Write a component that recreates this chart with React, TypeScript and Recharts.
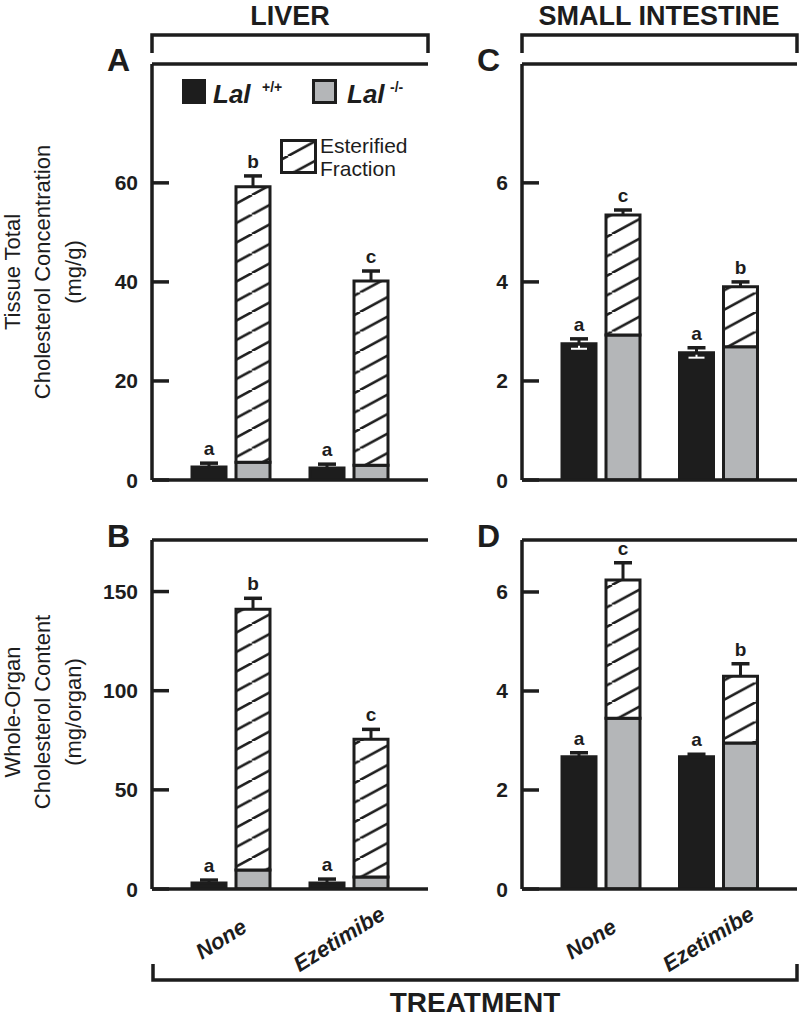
import React from "react";
import { BarChart, Bar, XAxis, YAxis, ReferenceLine, LabelList } from "recharts";

const INK = "#1d1d1d";
const GRAY = "#b4b6b8";
const FONT = "'Liberation Sans', Arial, Helvetica, sans-serif";
const W = 800;
const H = 1017;

const treatments = ["None", "Ezetimibe"];

// A: liver, tissue total cholesterol concentration (mg/g)
const liverConcWt = [2.6, 2.4];
const liverConcWtSe = [0.8, 0.8];
const liverConcKoFree = [3.6, 3.0];
const liverConcKoEster = [55.6, 37.2];
const liverConcKoSe = [2.2, 2.0];
const liverConcLetters = ["a", "a"];
const liverConcKoLetters = ["b", "c"];

// B: liver, whole-organ cholesterol content (mg/organ)
const liverContWt = [3, 3];
const liverContWtSe = [1.5, 2];
const liverContKoFree = [9.6, 6];
const liverContKoEster = [131.5, 69.5];
const liverContKoSe = [5.5, 5];
const liverContLetters = ["a", "a"];
const liverContKoLetters = ["b", "c"];

// C: small intestine, tissue concentration (mg/g)
const siConcWt = [2.75, 2.57];
const siConcWtSe = [0.1, 0.1];
const siConcKoFree = [2.93, 2.69];
const siConcKoEster = [2.42, 1.21];
const siConcKoSe = [0.1, 0.1];
const siConcLetters = ["a", "a"];
const siConcKoLetters = ["c", "b"];

// D: small intestine, whole-organ content (mg/organ)
const siContWt = [2.67, 2.67];
const siContWtSe = [0.08, 0.05];
const siContKoFree = [3.45, 2.95];
const siContKoEster = [2.79, 1.35];
const siContKoSe = [0.35, 0.25];
const siContLetters = ["a", "a"];
const siContKoLetters = ["c", "b"];

function rows(
  wt: number[], wtSe: number[], koFree: number[], koEster: number[], koSe: number[],
  wtLetter: string[], koLetter: string[]
) {
  return treatments.map((name, i) => ({
    name,
    wt: wt[i],
    wtSe: wtSe[i],
    koFree: koFree[i],
    koEster: koEster[i],
    koSe: koSe[i],
    wtLetter: wtLetter[i],
    koLetter: koLetter[i],
  }));
}

const LeftTick = (p: any) => (
  <g>
    <line x1={p.x} x2={p.x + 17} y1={p.y} y2={p.y} stroke={INK} strokeWidth={3.5} />
    <text x={p.x - 14} y={p.y} textAnchor="end" dominantBaseline="central"
      fontSize={21} fontWeight="bold" fill={INK} fontFamily={FONT}>
      {p.payload.value}
    </text>
  </g>
);

const RightTick = (p: any) => (
  <line x1={p.x - 17} x2={p.x} y1={p.y} y2={p.y} stroke={INK} strokeWidth={3.5} />
);

const XTick = (p: any) => {
  const cx = p.x - 10;
  const cy = p.y + 50;
  return (
    <text x={cx} y={cy} transform={`rotate(-32 ${cx} ${cy})`} textAnchor="middle"
      dominantBaseline="central" fontSize={22} fontWeight="bold" fontStyle="italic"
      fill={INK} fontFamily={FONT}>
      {p.payload.value}
    </text>
  );
};

// error bar drawn over the invisible stacked segment (its rect = the error extent)
const ErrShape = (p: any) => {
  const { x, y, width, height, inner } = p;
  if (!height || height <= 0) return null;
  const cx = x + width / 2;
  const base = y + height;
  return (
    <g>
      {inner && height >= 4.5 && (
        <g>
          <line x1={cx} x2={cx} y1={base + 2} y2={base + height} stroke="#fff" strokeWidth={2} />
          <line x1={cx - 8} x2={cx + 8} y1={base + height} y2={base + height} stroke="#fff" strokeWidth={2} />
        </g>
      )}
      <line x1={cx} x2={cx} y1={base} y2={y} stroke={INK} strokeWidth={3} />
      <line x1={cx - 9} x2={cx + 9} y1={y} y2={y} stroke={INK} strokeWidth={3.5} />
    </g>
  );
};

interface PanelProps {
  id: string;
  data: any[];
  plot: { left: number; right: number; top: number; bottom: number };
  domain: [number, number];
  ticks: number[];
  showX: boolean;
}

function Panel({ id, data, plot, domain, ticks, showX }: PanelProps) {
  return (
    <div style={{ position: "absolute", left: 0, top: 0 }}>
      <BarChart
        width={W}
        height={H}
        data={data}
        margin={{ top: plot.top, left: plot.left - 60, right: W - plot.right, bottom: H - plot.bottom - 60 }}
        barGap={10}
        barSize={34}
      >
        <defs>
          <pattern id={id} patternUnits="userSpaceOnUse" width={36} height={19.5}>
            <rect width={36} height={19.5} fill="#fff" />
            <path d="M0,19.5 L36,0 M-36,19.5 L0,0 M36,19.5 L72,0" stroke={INK} strokeWidth={2.6} />
          </pattern>
        </defs>
        <XAxis
          dataKey="name"
          height={60}
          interval={0}
          padding={{ left: 20, right: 20 }}
          axisLine={{ stroke: INK, strokeWidth: 3.5 }}
          tickLine={false}
          tickSize={0}
          tickMargin={0}
          tick={showX ? (p: any) => <XTick {...p} /> : false}
        />
        <YAxis
          type="number"
          width={60}
          domain={domain}
          ticks={ticks}
          allowDataOverflow
          axisLine={{ stroke: INK, strokeWidth: 3.5 }}
          tickLine={false}
          tickSize={0}
          tickMargin={0}
          tick={(p: any) => <LeftTick {...p} />}
        />
        <YAxis
          yAxisId="r"
          orientation="right"
          type="number"
          width={0}
          domain={domain}
          ticks={ticks}
          allowDataOverflow
          axisLine={{ stroke: INK, strokeWidth: 3.5 }}
          tickLine={false}
          tickSize={0}
          tickMargin={0}
          tick={(p: any) => <RightTick {...p} />}
        />
        <ReferenceLine y={domain[1]} stroke={INK} strokeWidth={3.5} />
        <Bar dataKey="wt" stackId="wt" fill={INK} stroke={INK} strokeWidth={3} isAnimationActive={false} />
        <Bar dataKey="wtSe" stackId="wt" fill="none" isAnimationActive={false}
          shape={(p: any) => <ErrShape {...p} inner />}>
          <LabelList dataKey="wtLetter" position="top" offset={8} fill={INK}
            fontSize={19} fontWeight="bold" fontFamily={FONT} />
        </Bar>
        <Bar dataKey="koFree" stackId="ko" fill={GRAY} stroke={INK} strokeWidth={3} isAnimationActive={false} />
        <Bar dataKey="koEster" stackId="ko" fill={`url(#${id})`} stroke={INK} strokeWidth={3} isAnimationActive={false} />
        <Bar dataKey="koSe" stackId="ko" fill="none" isAnimationActive={false}
          shape={(p: any) => <ErrShape {...p} />}>
          <LabelList dataKey="koLetter" position="top" offset={8} fill={INK}
            fontSize={19} fontWeight="bold" fontFamily={FONT} />
        </Bar>
      </BarChart>
    </div>
  );
}

const txt = { fill: INK, fontFamily: FONT } as const;

function Overlay() {
  return (
    <svg width={W} height={H} style={{ position: "absolute", left: 0, top: 0, pointerEvents: "none" }}>
      <defs>
        <pattern id="legendHatch" patternUnits="userSpaceOnUse" width={36} height={19.5}>
          <rect width={36} height={19.5} fill="#fff" />
          <path d="M0,19.5 L36,0 M-36,19.5 L0,0 M36,19.5 L72,0" stroke={INK} strokeWidth={2.6} />
        </pattern>
      </defs>
      {/* group titles and brackets */}
      <text x={290} y={25} textAnchor="middle" fontSize={27} fontWeight="bold" {...txt}>LIVER</text>
      <text x={659} y={25} textAnchor="middle" fontSize={27} fontWeight="bold" {...txt}>SMALL INTESTINE</text>
      <path d="M152,53 V35 H428 V53" fill="none" stroke={INK} strokeWidth={3.5} />
      <path d="M522,53 V35 H797 V53" fill="none" stroke={INK} strokeWidth={3.5} />
      <path d="M153,964 V980 H797 V964" fill="none" stroke={INK} strokeWidth={3.5} />
      <text x={475} y={1012} textAnchor="middle" fontSize={28} fontWeight="bold" {...txt}>TREATMENT</text>

      {/* panel letters */}
      <text x={107} y={71} fontSize={32} fontWeight="bold" {...txt}>A</text>
      <text x={107} y={547} fontSize={32} fontWeight="bold" {...txt}>B</text>
      <text x={477} y={71} fontSize={32} fontWeight="bold" {...txt}>C</text>
      <text x={477} y={547} fontSize={32} fontWeight="bold" {...txt}>D</text>

      {/* y axis titles */}
      <g fontSize={22} {...txt} textAnchor="middle">
        <text x={20} y={272} transform="rotate(-90 20 272)">Tissue Total</text>
        <text x={50} y={272} transform="rotate(-90 50 272)">Cholesterol Concentration</text>
        <text x={81} y={272} transform="rotate(-90 81 272)">(mg/g)</text>
        <text x={20} y={712} transform="rotate(-90 20 712)">Whole-Organ</text>
        <text x={50} y={712} transform="rotate(-90 50 712)">Cholesterol Content</text>
        <text x={81} y={712} transform="rotate(-90 81 712)">(mg/organ)</text>
      </g>

      {/* legend */}
      <rect x={182} y={79} width={24} height={25} fill={INK} />
      <text x={213} y={103} fontSize={26} fontWeight="bold" fontStyle="italic" {...txt}>Lal</text>
      <text x={262} y={92} fontSize={14} fontWeight="bold" {...txt}>+/+</text>
      <rect x={313.5} y={80.5} width={22} height={22} fill={GRAY} stroke={INK} strokeWidth={3} />
      <text x={347} y={103} fontSize={26} fontWeight="bold" fontStyle="italic" {...txt}>Lal</text>
      <text x={390} y={92} fontSize={14} fontWeight="bold" {...txt}>-/-</text>
      <rect x={281.5} y={140.5} width={34} height={32} fill="url(#legendHatch)" stroke={INK} strokeWidth={3} />
      <text x={320} y={153} fontSize={21} {...txt}>Esterified</text>
      <text x={320} y={176} fontSize={21} {...txt}>Fraction</text>
    </svg>
  );
}

export default function App() {
  return (
    <div style={{ position: "absolute", left: 0, top: 0, width: W, height: H, background: "#fff" }}>
      <Panel
        id="hatchA"
        data={rows(liverConcWt, liverConcWtSe, liverConcKoFree, liverConcKoEster, liverConcKoSe, liverConcLetters, liverConcKoLetters)}
        plot={{ left: 152, right: 428, top: 64, bottom: 480 }}
        domain={[0, 84]}
        ticks={[0, 20, 40, 60]}
        showX={false}
      />
      <Panel
        id="hatchC"
        data={rows(siConcWt, siConcWtSe, siConcKoFree, siConcKoEster, siConcKoSe, siConcLetters, siConcKoLetters)}
        plot={{ left: 522, right: 797, top: 64, bottom: 480 }}
        domain={[0, 8.4]}
        ticks={[0, 2, 4, 6]}
        showX={false}
      />
      <Panel
        id="hatchB"
        data={rows(liverContWt, liverContWtSe, liverContKoFree, liverContKoEster, liverContKoSe, liverContLetters, liverContKoLetters)}
        plot={{ left: 152, right: 428, top: 540, bottom: 889 }}
        domain={[0, 176]}
        ticks={[0, 50, 100, 150]}
        showX
      />
      <Panel
        id="hatchD"
        data={rows(siContWt, siContWtSe, siContKoFree, siContKoEster, siContKoSe, siContLetters, siContKoLetters)}
        plot={{ left: 522, right: 797, top: 540, bottom: 889 }}
        domain={[0, 7.05]}
        ticks={[0, 2, 4, 6]}
        showX
      />
      <Overlay />
    </div>
  );
}
